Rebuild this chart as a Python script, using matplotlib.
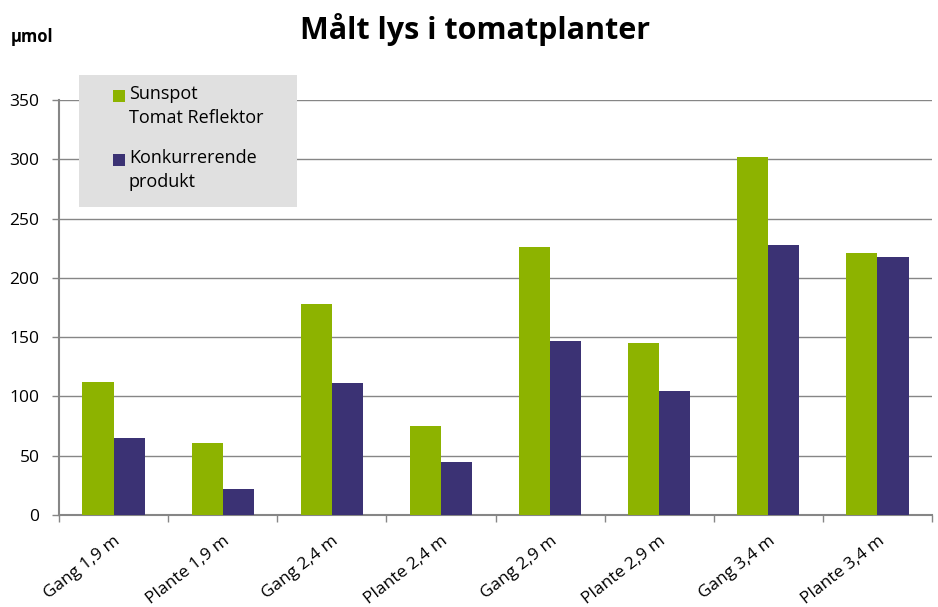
import numpy as np
import matplotlib
matplotlib.use("Agg")
import matplotlib.pyplot as plt
from matplotlib.patches import Rectangle

plt.rcParams['font.family'] = ['Open Sans', 'DejaVu Sans']

# data
categories = ['Gang 1,9 m', 'Plante 1,9 m', 'Gang 2,4 m', 'Plante 2,4 m',
              'Gang 2,9 m', 'Plante 2,9 m', 'Gang 3,4 m', 'Plante 3,4 m']
sunspot = [112, 61, 178, 75, 226, 145, 302, 221]
konkurrent = [65, 22, 111, 45, 147, 105, 228, 218]
series_labels = ['Sunspot\nTomat Reflektor', 'Konkurrerende\nprodukt']
yticks = [0, 50, 100, 150, 200, 250, 300, 350]

green = '#8db300'
purple = '#3b3274'
gray = '#868686'

fig = plt.figure(figsize=(9.38, 6.07), dpi=100)
ax = fig.add_axes([59/938, 1-515/607, (932-59)/938, (515-100)/607])

x = np.arange(len(categories))
w = 0.285
ax.bar(x - w/2, sunspot, w, color=green, zorder=3)
ax.bar(x + w/2, konkurrent, w, color=purple, zorder=3)

ax.set_xlim(-0.5, len(categories) - 0.5)
ax.set_ylim(0, 350)
ax.set_yticks(yticks)
ax.yaxis.grid(True, color=gray, linewidth=1, zorder=0)
ax.set_xticks(np.arange(len(categories) + 1) - 0.5)
ax.set_xticklabels([])
ax.set_xticks(x, minor=True)
ax.set_xticklabels(categories, minor=True, rotation=38, ha='right',
                   rotation_mode='anchor', fontsize=12.5)
ax.tick_params(axis='x', which='minor', length=0, pad=13)
ax.tick_params(axis='x', which='major', length=5, color=gray, width=1)
ax.tick_params(axis='y', length=5, color=gray, width=1, labelsize=12.5, pad=9)

for s in ['top', 'right']:
    ax.spines[s].set_visible(False)
for s in ['left', 'bottom']:
    ax.spines[s].set_color(gray)
    ax.spines[s].set_linewidth(1.5)

fig.text(475/938, 1-30/607, 'Målt lys i tomatplanter', ha='center', va='center',
         fontsize=22, fontweight='bold')
fig.text(11/938, 1-37/607, 'µmol', ha='left', va='center', fontsize=12,
         fontweight='bold')

# legend box, drawn by hand
fig.patches.append(Rectangle((79/938, 1-207/607), (297-79)/938, (207-75)/607,
                             transform=fig.transFigure, facecolor='#e0e0e0',
                             edgecolor='none', zorder=5))
for i, (lab, col) in enumerate(zip(series_labels, [green, purple])):
    y0 = 90 + i * 64
    fig.patches.append(Rectangle((113/938, 1-(y0+12)/607), 12/938, 12/607,
                                 transform=fig.transFigure, facecolor=col,
                                 edgecolor='none', zorder=6))
    fig.text(129/938, 1-(y0-5)/607, lab, ha='left', va='top', fontsize=13,
             linespacing=1.45, zorder=6)

fig.savefig('out.png', dpi=100)
